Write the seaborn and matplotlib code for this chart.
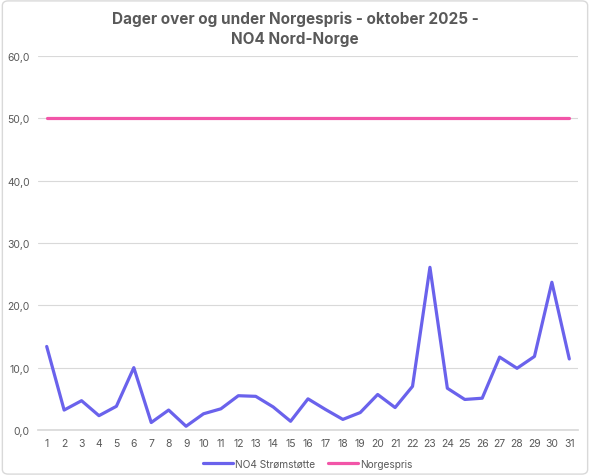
import pandas as pd
import matplotlib.pyplot as plt
import seaborn as sns
from matplotlib.patches import FancyBboxPatch
from matplotlib.ticker import FuncFormatter

days = list(range(1, 32))
stromstotte = [13.4, 3.2, 4.7, 2.3, 3.8, 10.0, 1.2, 3.2, 0.6, 2.6,
               3.4, 5.5, 5.4, 3.7, 1.4, 5.0, 3.3, 1.7, 2.8, 5.7,
               3.6, 7.0, 26.1, 6.7, 4.9, 5.1, 11.7, 9.9, 11.8, 23.7,
               11.4]
norgespris = [50.0] * 31
series_names = ["NO4 Strømstøtte", "Norgespris"]
colors = ["#6A62EC", "#F255A8"]

df = pd.DataFrame({
    "dag": days * 2,
    "verdi": stromstotte + norgespris,
    "serie": [series_names[0]] * 31 + [series_names[1]] * 31,
})

sns.set_theme(style="white")
plt.rcParams["font.family"] = ["Inter", "DejaVu Sans"]
text_col = "#595959"

fig = plt.figure(figsize=(5.9, 4.77), dpi=100)
ax = fig.add_axes([38 / 590, 1 - 431 / 477, 540 / 590, (431 - 57) / 477])

# light rounded frame around the chart
fig.patches.append(FancyBboxPatch((0.004, 0.004), 0.992, 0.992, boxstyle="round,pad=0,rounding_size=0.01",
                                  transform=fig.transFigure, fill=False, edgecolor="#D9D9D9", linewidth=1))

sns.lineplot(data=df, x="dag", y="verdi", hue="serie", palette=colors, linewidth=2.3, ax=ax)

ax.set_xlim(0.5, 31.5)
ax.set_ylim(0, 60)
ax.set_yticks(range(0, 61, 10))
ax.yaxis.set_major_formatter(FuncFormatter(lambda v, p: f"{v:.1f}".replace(".", ",")))
ax.set_xticks(days)
ax.grid(axis="y", color="#D9D9D9", linewidth=0.8)
ax.set_axisbelow(True)
for s in ["top", "right", "left"]:
    ax.spines[s].set_visible(False)
ax.spines["bottom"].set_color("#D9D9D9")
ax.tick_params(axis="both", length=0, labelsize=7.5, labelcolor=text_col)
ax.tick_params(axis="x", pad=6)
ax.tick_params(axis="y", pad=6)
ax.set_xlabel("")
ax.set_ylabel("")

fig.suptitle("Dager over og under Norgespris - oktober 2025 -\nNO4 Nord-Norge", y=0.976,
             fontsize=11, fontweight="bold", color=text_col, linespacing=1.4)

leg = ax.legend(loc="upper center", bbox_to_anchor=(0.5, -0.052), ncol=2, frameon=False,
                fontsize=7.3, handlelength=2.9, handletextpad=0.25, columnspacing=1.3)
for t in leg.get_texts():
    t.set_color(text_col)

fig.savefig("out.png", dpi=100)
